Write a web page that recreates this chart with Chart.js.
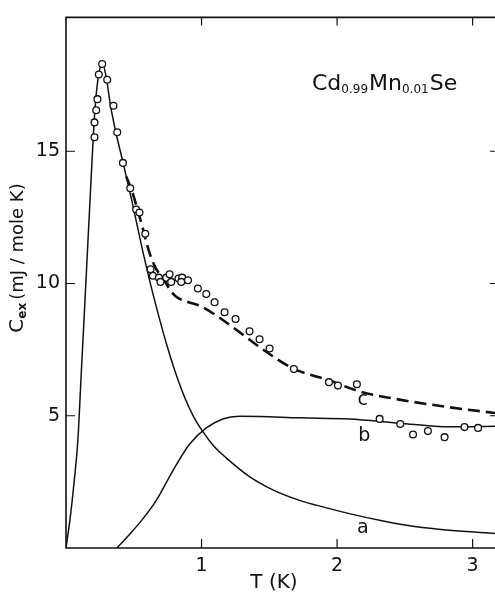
<!DOCTYPE html>
<html>
<head>
<meta charset="utf-8">
<script src="https://cdn.jsdelivr.net/npm/chart.js@4"></script>
<style>
  html, body { margin: 0; padding: 0; background: #fff; overflow: hidden; }
  #wrap { width: 495px; height: 596px; }
</style>
</head>
<body>
<div id="wrap"><canvas id="cexChart" width="495" height="596"></canvas></div>
<script>
// tick labels
var xTicks = [1, 2, 3];
var yTicks = [5, 10, 15];

// measured points (open circles)
var dataT = [0.21, 0.21, 0.223, 0.232, 0.242, 0.267, 0.304, 0.35, 0.378, 0.42, 0.474, 0.518, 0.542, 0.585,
    0.624, 0.641, 0.685, 0.697, 0.74, 0.764, 0.776, 0.83, 0.857, 0.85, 0.9, 0.973, 1.035, 1.096, 1.17,
    1.251, 1.354, 1.428, 1.502, 1.681, 1.94, 2.006, 2.146, 2.314, 2.466, 2.56, 2.67, 2.793, 2.94, 3.04];
var dataC = [15.53, 16.09, 16.55, 16.97, 17.9, 18.3, 17.7, 16.72, 15.72, 14.56, 13.6, 12.8, 12.68, 11.88,
    10.54, 10.29, 10.22, 10.06, 10.22, 10.35, 10.06, 10.19, 10.22, 10.06, 10.12, 9.81, 9.6, 9.29, 8.91,
    8.66, 8.19, 7.89, 7.54, 6.77, 6.27, 6.14, 6.19, 4.88, 4.69, 4.29, 4.42, 4.19, 4.57, 4.54];

// curve a (solid)
var curveAT = [0, 0.03, 0.06, 0.087, 0.112, 0.137, 0.161, 0.186, 0.205, 0.223, 0.245, 0.267, 0.3, 0.326,
    0.37, 0.42, 0.49, 0.565, 0.625, 0.68, 0.742, 0.8, 0.875, 0.94, 1.007, 1.09, 1.184, 1.354, 1.526,
    1.723, 1.846, 2.09, 2.34, 2.585, 2.83, 3.17];
var curveAC = [0, 1.1, 2.5, 4.04, 6.54, 9.04, 11.5, 14.04, 15.9, 17.15, 18.0, 18.35, 17.7, 16.8,
    15.66, 14.6, 13.03, 11.25, 9.95, 8.85, 7.7, 6.75, 5.7, 4.98, 4.42, 3.86, 3.4, 2.7, 2.2,
    1.8, 1.62, 1.3, 1.02, 0.8, 0.67, 0.55];

// curve b (solid)
var curveBT = [0.375, 0.47, 0.567, 0.666, 0.788, 0.911, 1.035, 1.157, 1.28, 1.43, 1.723, 2.09, 2.46, 2.83, 3.17];
var curveBC = [0, 0.52, 1.1, 1.8, 2.92, 3.92, 4.54, 4.88, 4.98, 4.97, 4.92, 4.88, 4.72, 4.58, 4.6];

// curve c (dashed)
var curveCT = [0.444, 0.486, 0.555, 0.616, 0.66, 0.7, 0.727, 0.776, 0.813, 0.9, 0.985, 1.108, 1.28, 1.477,
    1.674, 1.945, 2.166, 2.46, 2.83, 3.17];
var curveCC = [14.05, 13.5, 12.3, 11.16, 10.6, 10.3, 10.1, 9.7, 9.5, 9.3, 9.16, 8.79, 8.16, 7.42,
    6.79, 6.33, 5.92, 5.61, 5.32, 5.1];

// curve labels
var curveLabels = ['a', 'b', 'c'];
var labelT = [2.19, 2.2, 2.19];
var labelC = [0.75, 4.25, 5.6];

function pts(xs, ys) {
    return xs.map(function (v, i) { return { x: v, y: ys[i] }; });
}

var ink = '#111';
var fontFam = '"DejaVu Sans", "Liberation Sans", sans-serif';

function drawRich(ctx, parts, x, y, center) {
    var w = 0;
    parts.forEach(function (p) {
        ctx.font = (p.bold ? 'bold ' : '') + p.s + 'px ' + fontFam;
        w += ctx.measureText(p.t).width + (p.gap || 0);
    });
    var cx = center ? x - w / 2 : x;
    parts.forEach(function (p) {
        ctx.font = (p.bold ? 'bold ' : '') + p.s + 'px ' + fontFam;
        ctx.fillText(p.t, cx, y + (p.dy || 0));
        cx += ctx.measureText(p.t).width + (p.gap || 0);
    });
}

var framePlugin = {
    id: 'frame',
    afterDatasetsDraw: function (chart) {
        var ctx = chart.ctx;
        var a = chart.chartArea;
        var xs = chart.scales.x;
        var ys = chart.scales.y;
        ctx.save();
        ctx.strokeStyle = ink;
        ctx.lineWidth = 1.6;
        ctx.beginPath();
        ctx.moveTo(a.right + 2, a.top);
        ctx.lineTo(a.left, a.top);
        ctx.lineTo(a.left, a.bottom);
        ctx.lineTo(a.right + 2, a.bottom);
        ctx.stroke();

        ctx.lineWidth = 1.2;
        ctx.beginPath();
        xTicks.forEach(function (v) {
            var px = xs.getPixelForValue(v);
            ctx.moveTo(px, a.bottom);
            ctx.lineTo(px, a.bottom - 9);
            ctx.moveTo(px, a.top);
            ctx.lineTo(px, a.top + 8);
        });
        yTicks.forEach(function (v) {
            var py = ys.getPixelForValue(v);
            ctx.moveTo(a.left, py);
            ctx.lineTo(a.left + 9, py);
            ctx.moveTo(a.right, py);
            ctx.lineTo(a.right - 5, py);
        });
        ctx.stroke();

        ctx.fillStyle = ink;
        ctx.textBaseline = 'alphabetic';
        ctx.textAlign = 'left';

        // compound name
        drawRich(ctx, [
            { t: 'Cd', s: 22 },
            { t: '0.99', s: 12, dy: 3, gap: 1 },
            { t: 'Mn', s: 22 },
            { t: '0.01', s: 12, dy: 3, gap: 1 },
            { t: 'Se', s: 22 }
        ], 312, 90, false);

        // curve labels
        ctx.font = '19px ' + fontFam;
        ctx.textAlign = 'center';
        ctx.textBaseline = 'middle';
        curveLabels.forEach(function (t, i) {
            ctx.fillText(t, xs.getPixelForValue(labelT[i]), ys.getPixelForValue(labelC[i]));
        });

        // x title
        ctx.textAlign = 'left';
        ctx.textBaseline = 'alphabetic';
        drawRich(ctx, [{ t: 'T (K)', s: 20 }], 274, 588, true);

        // y title
        ctx.translate(23, 258);
        ctx.rotate(-Math.PI / 2);
        drawRich(ctx, [
            { t: 'C', s: 20 },
            { t: 'ex', s: 12, bold: true, dy: 3, gap: 3 },
            { t: '(mJ / mole K)', s: 18 }
        ], 0, 0, true);
        ctx.restore();
    }
};

var cexCtx = document.getElementById('cexChart').getContext('2d');

var cexChart = new Chart(cexCtx, {
    type: 'scatter',
    data: {
        datasets: [
            {
                label: 'data',
                data: pts(dataT, dataC),
                showLine: false,
                pointRadius: 3.4,
                pointBorderWidth: 1.3,
                pointBackgroundColor: '#fff',
                pointBorderColor: ink
            },
            {
                label: 'c',
                data: pts(curveCT, curveCC),
                showLine: true,
                pointRadius: 0,
                borderColor: ink,
                borderWidth: 2.6,
                borderDash: [12, 6],
                cubicInterpolationMode: 'monotone'
            },
            {
                label: 'b',
                data: pts(curveBT, curveBC),
                showLine: true,
                pointRadius: 0,
                borderColor: ink,
                borderWidth: 1.5,
                cubicInterpolationMode: 'monotone'
            },
            {
                label: 'a',
                data: pts(curveAT, curveAC),
                showLine: true,
                pointRadius: 0,
                borderColor: ink,
                borderWidth: 1.5,
                cubicInterpolationMode: 'monotone'
            }
        ]
    },
    options: {
        responsive: false,
        animation: false,
        layout: {
            autoPadding: false,
            padding: { left: 0, right: 0, top: 12, bottom: 0 }
        },
        scales: {
            x: {
                type: 'linear',
                min: 0,
                max: 3.165,
                afterBuildTicks: function (scale) {
                    scale.ticks = xTicks.map(function (v) { return { value: v }; });
                },
                afterFit: function (scale) {
                    scale.height = 48;
                },
                ticks: {
                    color: ink,
                    padding: 7,
                    maxRotation: 0,
                    font: { family: fontFam, size: 19 }
                },
                grid: { display: false, drawTicks: false },
                border: { display: false }
            },
            y: {
                type: 'linear',
                min: 0,
                max: 20.06,
                afterBuildTicks: function (scale) {
                    scale.ticks = yTicks.map(function (v) { return { value: v }; });
                },
                afterFit: function (scale) {
                    scale.width = 66;
                },
                ticks: {
                    color: ink,
                    padding: 6,
                    font: { family: fontFam, size: 19 }
                },
                grid: { display: false, drawTicks: false },
                border: { display: false }
            }
        },
        plugins: {
            legend: { display: false },
            tooltip: { enabled: false },
            title: { display: false }
        }
    },
    plugins: [framePlugin]
});
</script>
</body>
</html>
